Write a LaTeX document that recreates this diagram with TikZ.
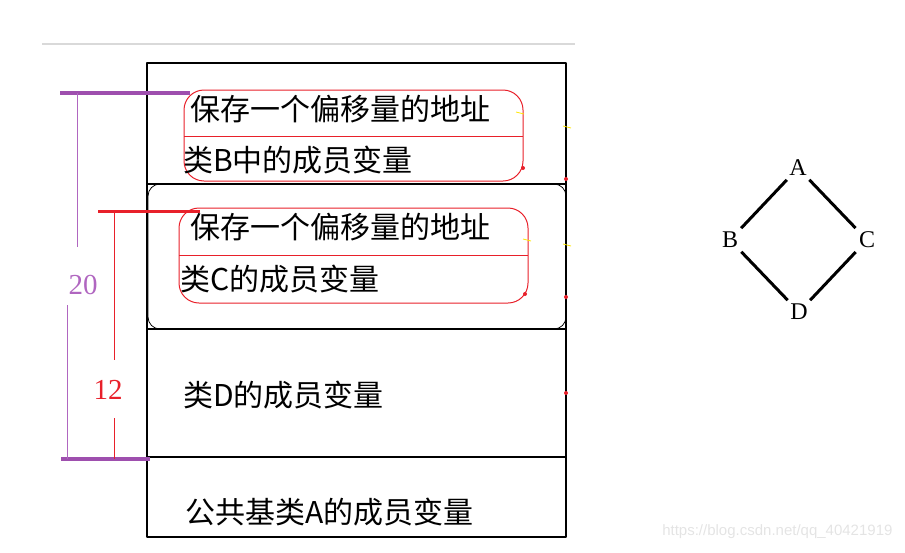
\documentclass[tikz,border=0pt]{standalone}
\usepackage{fontspec}
\setmainfont{Liberation Serif}
\newfontfamily\cjk{Noto Sans CJK SC}
\newfontfamily\wmfont{Liberation Sans}
\definecolor{dimpurple}{HTML}{9E4FAE}
\definecolor{numpurple}{HTML}{B066C0}
\definecolor{dimred}{HTML}{E8202A}
\definecolor{wmgray}{HTML}{E4E4E4}
\tikzset{
 memtext/.style={anchor=west, inner sep=0pt, font=\cjk\fontsize{30}{32}\selectfont},
 dimnum/.style={inner sep=0pt, font=\fontsize{29}{32}\selectfont},
 vertex/.style={inner sep=3pt, font=\fontsize{24}{26}\selectfont},
 redbox/.style={draw=dimred, line width=1pt, rounded corners=20pt},
 diaedge/.style={line width=3pt, shorten <=1pt, shorten >=1pt}
}
\begin{document}
\begin{tikzpicture}[x=1pt, y=-1pt, line join=round, line cap=butt]
 \useasboundingbox (0,0) rectangle (905,552);
 \def\xl{147} \def\xr{566}
 \draw[gray!30, line width=1.5pt] (42,44)--(575,44);
 % memory layout of D
 \draw[line width=1.2pt] (\xl,63) rectangle (\xr,537);
 \draw[line width=0.8pt, rounded corners=12pt] (\xl+1,184) rectangle (\xr,329);
 \draw[line width=2pt] (\xl+1,184)--(\xr,184) (\xl+1,329)--(\xr,329);
 \draw[line width=2pt] (\xr,184)--(\xr,457);
 \draw[line width=2pt] (\xl,331)--(\xl,457);
 \draw[line width=1.2pt] (\xl,457)--(\xr,457);
 \draw[redbox] (184,90) rectangle (523,181);
 \draw[dimred, line width=1pt] (184,136)--(523,136);
 \draw[redbox] (179,208) rectangle (528,303);
 \draw[dimred, line width=1pt] (179,255)--(528,255);
 \node[memtext] (vptrb) at (190,109) {保存一个偏移量的地址};
 \node[memtext] (memb) at (183,160) {类B中的成员变量};
 \node[memtext] (vptrc) at (190,227) {保存一个偏移量的地址};
 \node[memtext] (memc) at (180,279) {类C的成员变量};
 \node[memtext] (memd) at (183,395) {类D的成员变量};
 \node[memtext] (mema) at (185,512) {公共基类A的成员变量};
 \foreach \p in {(\xr,179),(\xr,297),(\xr,393),(523,168),(525,294)}
  \fill[dimred] \p circle (2pt);
 \foreach \p in {(520,113),(567,127),(567,245),(527,240)}
  \draw[yellow!90!orange, line width=0.8pt] \p ++(-4,-1)--++(8,2);
 % offsets
 \coordinate (ptop) at (77,93);
 \coordinate (pbot) at (67,459);
 \coordinate (rtop) at (114,211);
 \coordinate (rbot) at (114,459);
 \draw[dimpurple, line width=4pt] (60,93)--(190,93);
 \draw[dimpurple, line width=4pt] (61,459)--(150,459);
 \draw[dimred, line width=3pt] (98,211)--(200,211);
 \node[dimnum, text=numpurple] (twenty) at (83,285) {20};
 \node[dimnum, text=dimred] (twelve) at (108,390) {12};
 \draw[numpurple, line width=1pt] (ptop)--(77,247);
 \draw[numpurple, line width=1pt] (67,305)--(pbot);
 \draw[dimred, line width=1pt] (rtop)--(114,360);
 \draw[dimred, line width=1pt] (114,418)--(rbot);
 % diamond
 \node[vertex] (A) at (798,168) {A};
 \node[vertex] (B) at (730,240) {B};
 \node[vertex] (C) at (867,240) {C};
 \node[vertex] (D) at (799,312) {D};
 \draw[diaedge] (A)--(B);
 \draw[diaedge] (A)--(C);
 \draw[diaedge] (B)--(D);
 \draw[diaedge] (C)--(D);
 \node[text=wmgray, font=\wmfont\fontsize{15}{17}\selectfont, anchor=east] (wm) at (896,532) {https://blog.csdn.net/qq\_40421919};
\end{tikzpicture}
\end{document}
